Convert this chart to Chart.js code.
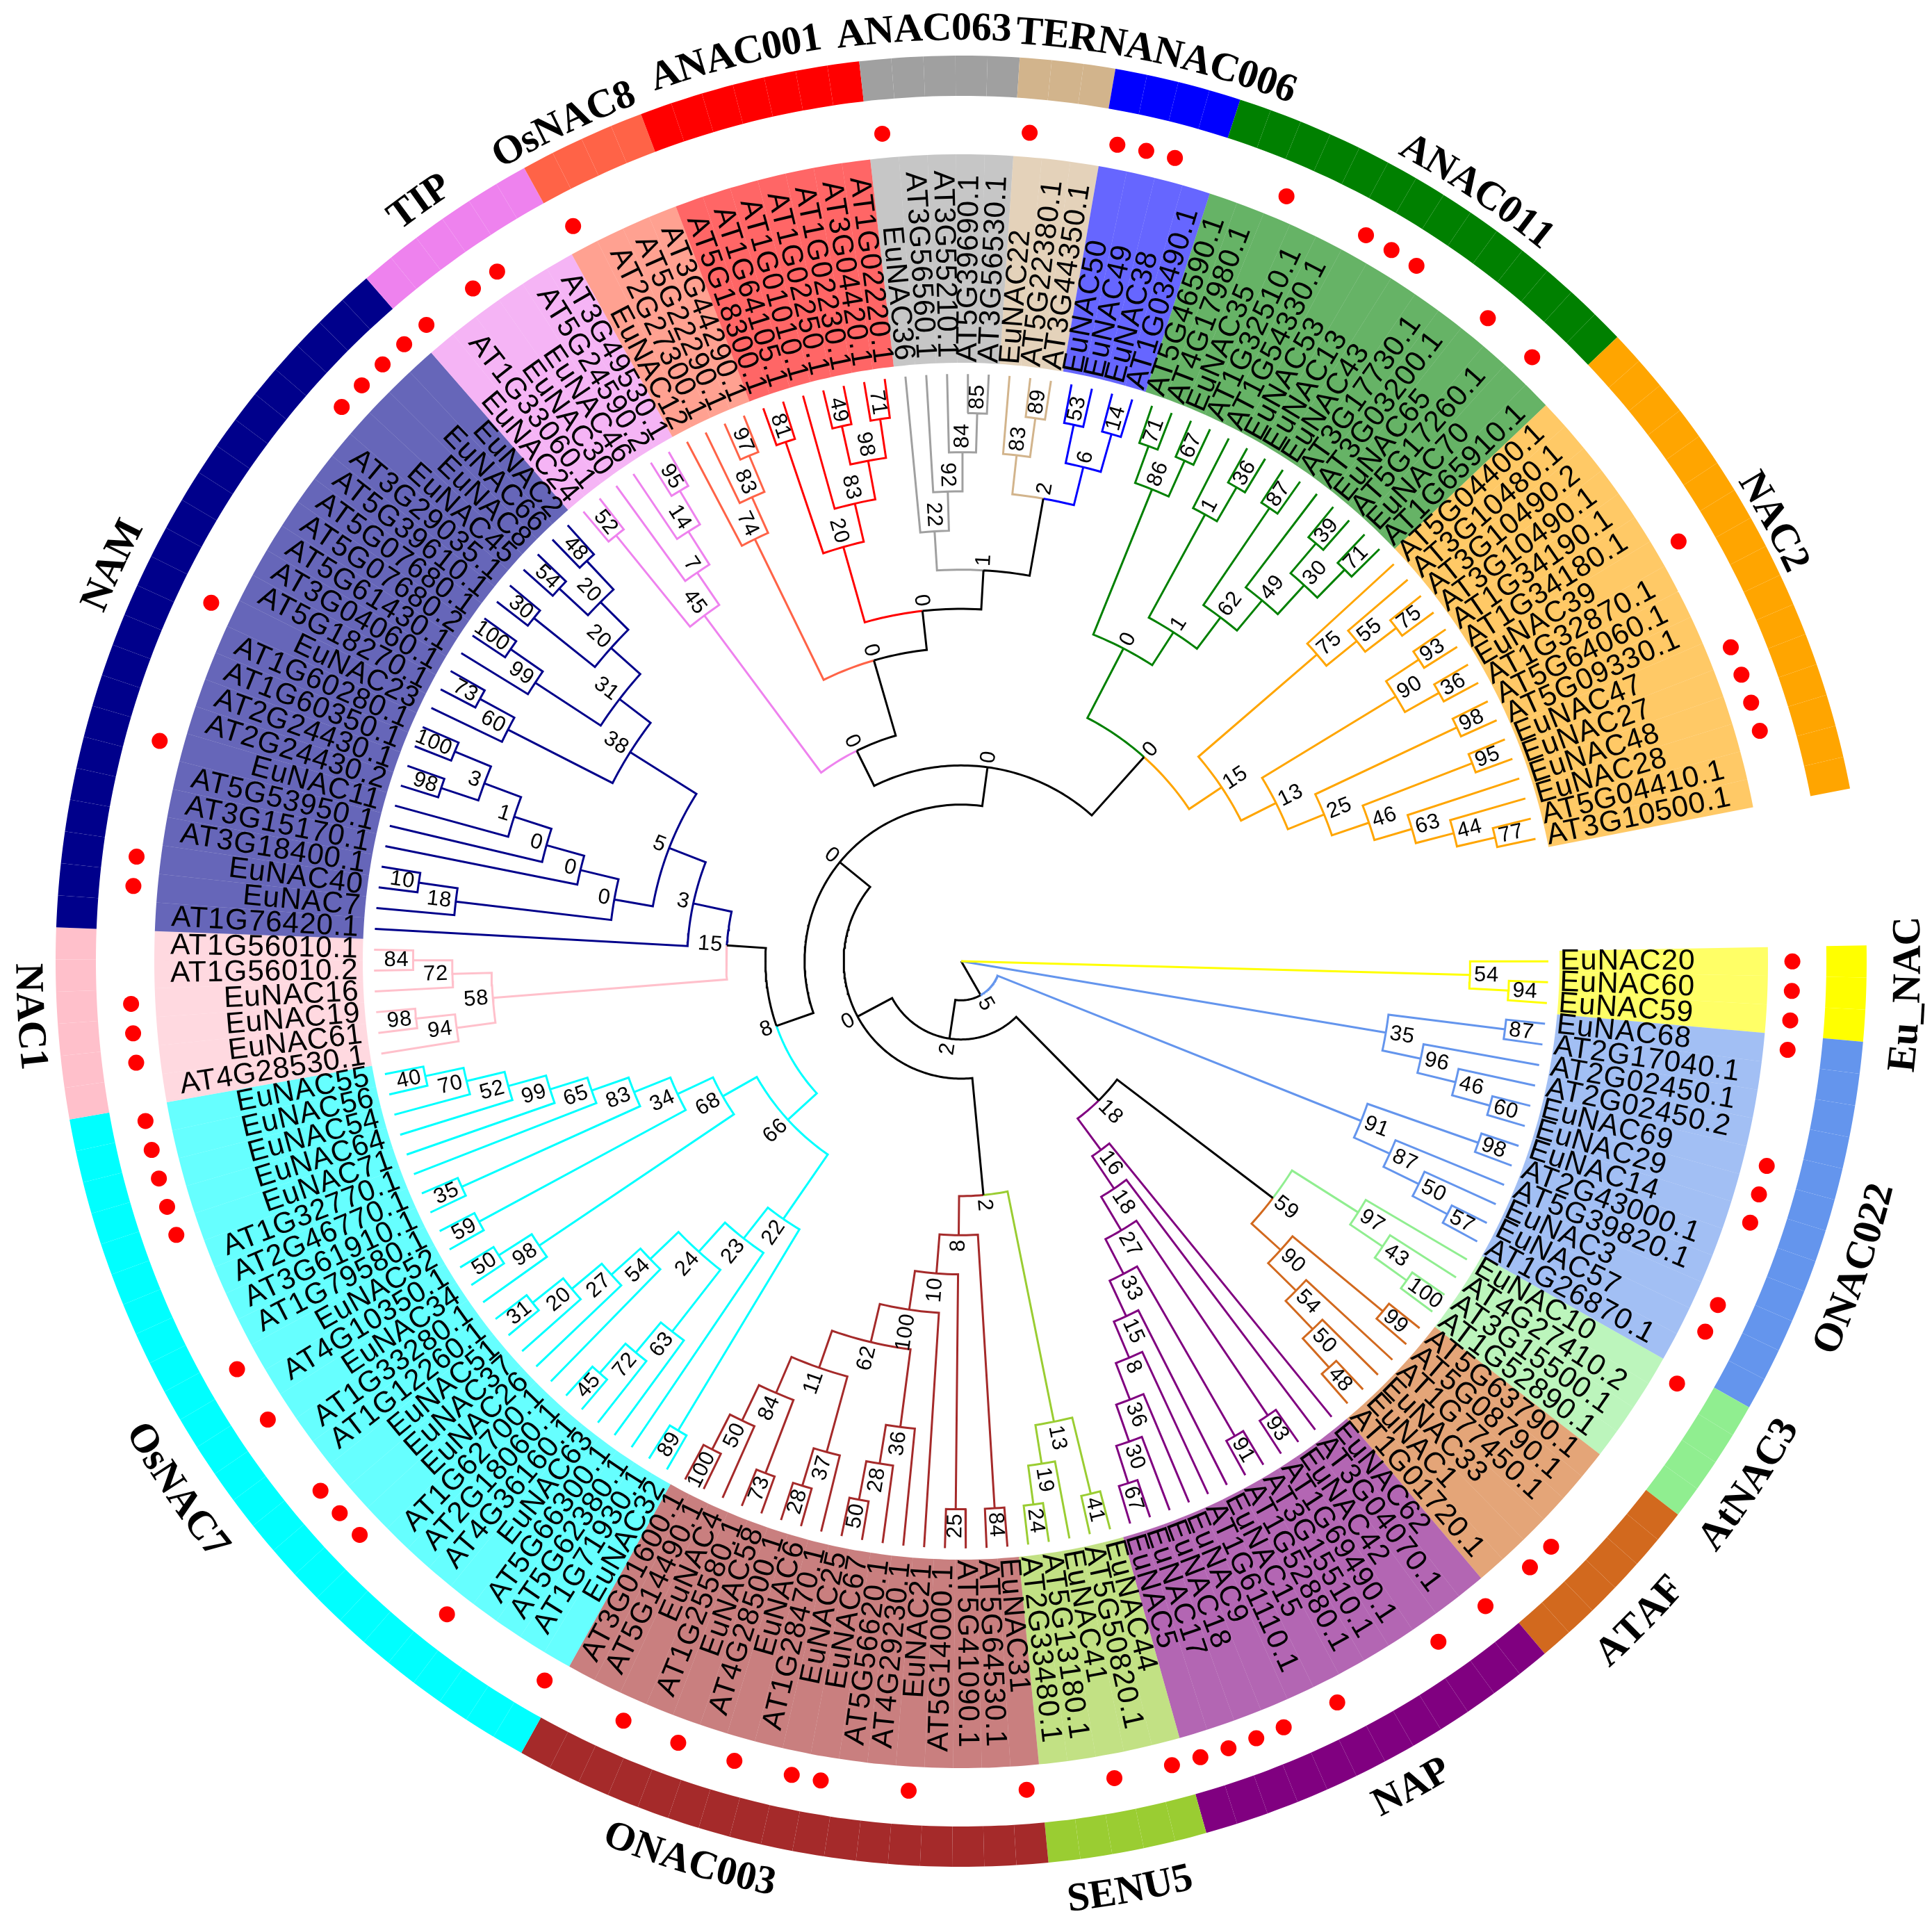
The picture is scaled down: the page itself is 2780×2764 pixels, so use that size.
<!DOCTYPE html>
<html>
<head>
<meta charset="utf-8">
<style>
html, body { margin: 0; background: #fff; }
canvas { position: absolute; left: 0; top: 0; }
</style>
<script src="https://cdn.jsdelivr.net/npm/chart.js@4/dist/chart.umd.js"></script>
</head>
<body>
<canvas id="rings" width="2780" height="2764"></canvas>
<canvas id="tree" width="2780" height="2764"></canvas>
<script>
// clades, clockwise from east
const cladeNames = ['Eu_NAC', 'ONAC022', 'AtNAC3', 'ATAF', 'NAP', 'SENU5', 'ONAC003', 'OsNAC7', 'NAC1',
    'NAM', 'TIP', 'OsNAC8', 'ANAC001', 'ANAC063', 'TERN', 'ANAC006', 'ANAC011', 'NAC2'];
const cladeSizes = [3, 12, 4, 6, 12, 5, 17, 25, 6, 23, 6, 4, 7, 5, 3, 4, 14, 16];
const cladeColors = ['#ffff00', '#6495ed', '#90ee90', '#d2691e', '#800080', '#9acd32', '#a52a2a', '#00ffff', '#ffc0cb',
    '#00008b', '#ee82ee', '#ff6347', '#ff0000', '#a0a0a0', '#d2b48c', '#0000ff', '#008000', '#ffa500'];
const titleAngles = [2, 19, 33.6, 44.2, 61.4, 79.7, 106.8, 146, 176.6, 205, 234.5, 244.6, 256, 267.7, 276.8, 285.6, 303.8, 331.6];
const titleRadii = [1376, 1376, 1376, 1376, 1367, 1372, 1367, 1376, 1356, 1358, 1352, 1345, 1354, 1352, 1349, 1349, 1347, 1340];

// subtrees: support(child,child), tips are gene names
const euNac = '54(EuNAC20,94(EuNAC60,EuNAC59))';
const onac022a = '35(87(EuNAC68,AT2G17040.1),96(AT2G02450.1,46(AT2G02450.2,60(EuNAC69,EuNAC29))))';
const onac022b = '91(98(EuNAC14,AT2G43000.1),87(AT5G39820.1,50(EuNAC3,57(EuNAC57,AT1G26870.1))))';
const atNac3 = '97(EuNAC10,43(AT4G27410.2,100(AT3G15500.1,AT1G52890.1)))';
const ataf = '90(99(AT5G63790.1,AT5G08790.1),54(AT1G77450.1,50(EuNAC33,48(EuNAC1,AT1G01720.1))))';
const nap = '16(EuNAC62,18(AT3G04070.1,27(93(EuNAC42,AT1G69490.1),33(91(AT3G15510.1,AT1G52880.1),15(EuNAC15,8(AT1G61110.1,36(EuNAC9,30(EuNAC18,67(EuNAC17,EuNAC5)))))))))';
const senu5 = '13(41(EuNAC44,AT5G50820.1),19(EuNAC41,24(AT5G13180.1,AT2G33480.1)))';
const onac003 = '8(84(EuNAC31,AT5G64530.1),10(25(AT5G41090.1,AT5G14000.1),100(EuNAC21,62(36(AT4G29230.1,28(AT5G56620.1,50(EuNAC67,EuNAC25))),11(37(AT1G28470.1,28(EuNAC6,AT4G28500.1)),84(73(EuNAC58,AT1G25580.1),50(EuNAC4,100(AT5G14490.1,AT3G01600.1))))))))';
const osNac7 = '66(22(89(EuNAC32,AT1G71930.1),23(AT5G62380.1,24(63(AT5G66300.1,72(EuNAC63,45(AT4G36160.1,AT2G18060.1))),54(AT1G62700.1,27(EuNAC26,20(EuNAC37,31(EuNAC51,AT1G12260.1))))))),68(98(AT1G33280.1,50(EuNAC34,AT4G10350.1)),34(59(EuNAC52,AT1G79580.1),83(35(AT3G61910.1,AT2G46770.1),65(AT1G32770.1,99(EuNAC71,52(EuNAC64,70(EuNAC54,40(EuNAC56,EuNAC55)))))))))';
const nac1 = '58(94(AT4G28530.1,98(EuNAC61,EuNAC19)),72(EuNAC16,84(AT1G56010.2,AT1G56010.1)))';
const nam = '3(AT1G76420.1,5(0(18(EuNAC7,10(EuNAC40,AT3G18400.1)),0(AT3G15170.1,0(AT5G53950.1,1(EuNAC11,3(98(AT2G24430.2,AT2G24430.1),100(AT1G60350.1,AT1G60280.1)))))),38(60(EuNAC23,73(AT5G18270.1,AT3G04060.1)),31(99(AT5G61430.1,100(AT5G07680.2,AT5G07680.1)),20(30(AT5G39610.1,AT3G29035.1),20(54(EuNAC45,EuNAC8),48(EuNAC66,EuNAC2)))))))';
const tip = '45(52(EuNAC24,AT1G33060.1),7(EuNAC30,14(EuNAC46,95(AT5G24590.2,AT3G49530.1))))';
const osNac8 = '74(EuNAC12,83(AT2G27300.1,97(AT5G22290.1,AT3G44290.1)))';
const anac001 = '20(81(AT5G18300.1,AT1G64105.1),83(AT1G01010.1,98(49(AT1G02250.1,AT1G02230.1),71(AT3G04420.1,AT1G02220.1))))';
const anac063 = '22(EuNAC36,92(AT3G56560.1,84(AT3G55210.1,85(AT5G39690.1,AT3G56530.1))))';
const tern = '83(EuNAC22,89(AT5G22380.1,AT3G44350.1))';
const anac006 = '6(53(EuNAC50,EuNAC49),14(EuNAC38,AT1G03490.1))';
const anac011 = '0(86(71(AT5G46590.1,AT4G17980.1),67(EuNAC35,AT1G32510.1)),1(1(AT1G54330.1,36(EuNAC53,EuNAC13)),62(87(EuNAC43,AT3G17730.1),49(AT3G03200.1,30(39(EuNAC65,AT5G17260.1),71(EuNAC70,AT1G65910.1))))))';
const nac2 = '15(75(AT5G04400.1,55(AT3G10480.1,75(AT3G10490.2,AT3G10490.1))),13(90(93(AT1G34190.1,AT1G34180.1),36(EuNAC39,AT1G32870.1)),25(98(AT5G64060.1,AT5G09330.1),46(95(EuNAC47,EuNAC27),63(EuNAC48,44(EuNAC28,77(AT5G04410.1,AT3G10500.1)))))))';
// "#6" pins a node to ring level 6 where the picture does not follow tip distance
const backbone = `(${euNac},${onac022a},5(${onac022b},2(18(59(${atNac3},${ataf}),${nap}),0(2(${senu5},${onac003}),0(8(${osNac7},15(${nac1},${nam})),0(0#6(${tip},0(${osNac8},0(${anac001},1(${anac063},2(${tern},${anac006}))))),0(${anac011},${nac2})))))))`;

const TIP_R = 852, LABEL_R = 869, LABEL_R_LEFT = 875, DOT_R = 1206, LEVELS = 15;
const START_ANGLE = -1, SWEEP = 350;
const leafCount = cladeSizes.reduce((a, b) => a + b, 0);
const leafDeg = SWEEP / leafCount;
const CX = 1383, CY = 1383;

function parseTree(text) {
    let i = 0;
    function node() {
        const s = i;
        while (i < text.length && !'(),'.includes(text[i])) i++;
        const label = text.slice(s, i);
        if (text[i] !== '(') return { name: label, kids: [] };
        i++;
        const kids = [];
        do { kids.push(node()); } while (text[i++] === ',');
        const [support, level] = label.split('#');
        return { support, level: level ? Number(level) : null, kids };
    }
    return node();
}

const leafClade = cladeSizes.flatMap((n, c) => Array(n).fill(c));
const root = parseTree(backbone);
const leaves = [], nodes = [];
(function layout(n) {
    if (!n.kids.length) {
        n.angle = START_ANGLE + (leaves.length + 0.5) * leafDeg;
        n.clade = leafClade[leaves.length];
        n.height = 0;
        leaves.push(n);
    } else {
        n.kids.forEach(layout);
        n.angle = (n.kids[0].angle + n.kids[n.kids.length - 1].angle) / 2;
        n.height = n.level !== null ? LEVELS - n.level : 1 + Math.max(...n.kids.map(k => k.height));
        n.clade = n.kids.every(k => k.clade === n.kids[0].clade) ? n.kids[0].clade : -1;
        nodes.push(n);
    }
    n.r = (LEVELS - n.height) * TIP_R / LEVELS;
})(root);

function polar(r, deg) {
    const a = deg * Math.PI / 180;
    return { x: r * Math.cos(a), y: -r * Math.sin(a) };
}

// branch paths per colour, NaN breaks the line
const paths = {};
function addBranch(parent, kid) {
    const color = kid.clade >= 0 ? cladeColors[kid.clade] : '#000000';
    const path = paths[color] || (paths[color] = []);
    const steps = Math.max(1, Math.ceil(Math.abs(kid.angle - parent.angle)));
    for (let s = 0; s <= steps; s++) {
        path.push(polar(parent.r, parent.angle + (kid.angle - parent.angle) * s / steps));
    }
    path.push(polar(kid.r, kid.angle));
    path.push({ x: NaN, y: NaN });
    kid.kids.forEach(k => addBranch(kid, k));
}
root.kids.forEach(k => addBranch(root, k));

const dotPoints = leaves.filter(l => l.name.startsWith('EuNAC')).map(l => polar(DOT_R, l.angle));

// rings: one cell per leaf, plus the empty gap
const ringData = [...leaves.map(() => leafDeg), 360 - SWEEP];
const ringColors = [...leaves.map(l => cladeColors[l.clade]), 'rgba(0,0,0,0)'];
const shadeColors = [...leaves.map(l => cladeColors[l.clade] + '99'), 'rgba(0,0,0,0)'];

new Chart(document.getElementById('rings').getContext('2d'), {
    type: 'doughnut',
    data: {
        labels: [...leaves.map(l => l.name), ''],
        datasets: [
            { data: ringData, backgroundColor: ringColors, borderWidth: 0, weight: 58 },
            { data: ringData, backgroundColor: 'rgba(0,0,0,0)', borderWidth: 0, weight: 84 },
            { data: ringData, backgroundColor: shadeColors, borderWidth: 0, weight: 300 }
        ]
    },
    options: {
        responsive: false,
        animation: false,
        devicePixelRatio: 1,
        events: [],
        rotation: START_ANGLE + 90,
        radius: 1303,
        cutout: (861 / 1303 * 100) + '%',
        layout: { padding: { right: 14, top: 2 } },
        plugins: { legend: { display: false }, tooltip: { enabled: false } }
    }
});

function drawRadial(ctx, text, px, py, deg, outward) {
    // reads away from the centre on the right, towards it on the left
    const right = Math.cos(deg * Math.PI / 180) > 0;
    ctx.save();
    ctx.translate(px, py);
    ctx.rotate((right ? deg : deg + 180) * Math.PI / 180);
    ctx.textAlign = right ? outward : (outward === 'left' ? 'right' : outward === 'right' ? 'left' : 'center');
    ctx.textBaseline = 'middle';
    ctx.fillText(text, 0, 0);
    ctx.restore();
}

function drawCurved(ctx, text, deg, r, toPixel) {
    const bottom = Math.sin(deg * Math.PI / 180) > 0;
    const widths = [...text].map(c => ctx.measureText(c).width);
    const total = widths.reduce((a, b) => a + b, 0);
    const perPx = 180 / Math.PI / r * (bottom ? -1 : 1);
    let pos = -total / 2;
    [...text].forEach((c, i) => {
        const a = deg + (pos + widths[i] / 2) * perPx;
        const p = toPixel(polar(r, a));
        ctx.save();
        ctx.translate(p.x, p.y);
        ctx.rotate((bottom ? a - 90 : a + 90) * Math.PI / 180);
        ctx.textAlign = 'center';
        ctx.textBaseline = 'middle';
        ctx.fillText(c, 0, 0);
        ctx.restore();
        pos += widths[i];
    });
}

const treeText = {
    id: 'treeText',
    afterDatasetsDraw(chart) {
        const { ctx, scales } = chart;
        const toPixel = p => ({ x: scales.x.getPixelForValue(p.x), y: scales.y.getPixelForValue(p.y) });
        ctx.save();
        ctx.fillStyle = '#000';

        ctx.font = '42.5px "Liberation Sans"';
        ctx.letterSpacing = '0.8px';
        leaves.forEach(l => {
            const r = Math.cos(l.angle * Math.PI / 180) > 0 ? LABEL_R : LABEL_R_LEFT;
            const p = toPixel(polar(r, l.angle));
            drawRadial(ctx, l.name, p.x, p.y, l.angle, 'left');
        });

        ctx.font = '31px "Liberation Sans"';
        nodes.forEach(n => {
            if (!n.support) return;
            const w = ctx.measureText(n.support).width;
            const p = toPixel(polar(n.r + w / 2 + 6, n.angle));
            drawRadial(ctx, n.support, p.x, p.y, n.angle, 'center');
        });

        ctx.letterSpacing = '0px';
        ctx.font = 'bold 58px "Liberation Serif"';
        cladeNames.forEach((name, i) => drawCurved(ctx, name, titleAngles[i], titleRadii[i], toPixel));
        ctx.restore();
    }
};

new Chart(document.getElementById('tree').getContext('2d'), {
    type: 'scatter',
    data: {
        datasets: [
            ...Object.keys(paths).map(color => ({
                data: paths[color],
                showLine: true,
                borderColor: color,
                borderWidth: 3,
                pointRadius: 0,
                spanGaps: false,
                borderJoinStyle: 'miter'
            })),
            { data: dotPoints, pointRadius: 11.5, pointBackgroundColor: '#ff0000', pointBorderWidth: 0, showLine: false }
        ]
    },
    options: {
        responsive: false,
        animation: false,
        devicePixelRatio: 1,
        events: [],
        layout: { padding: 0 },
        scales: {
            x: { display: false, min: -CX, max: 2780 - CX },
            y: { display: false, min: CY - 2764, max: CY }
        },
        plugins: { legend: { display: false }, tooltip: { enabled: false } }
    },
    plugins: [treeText]
});
</script>
</body>
</html>
